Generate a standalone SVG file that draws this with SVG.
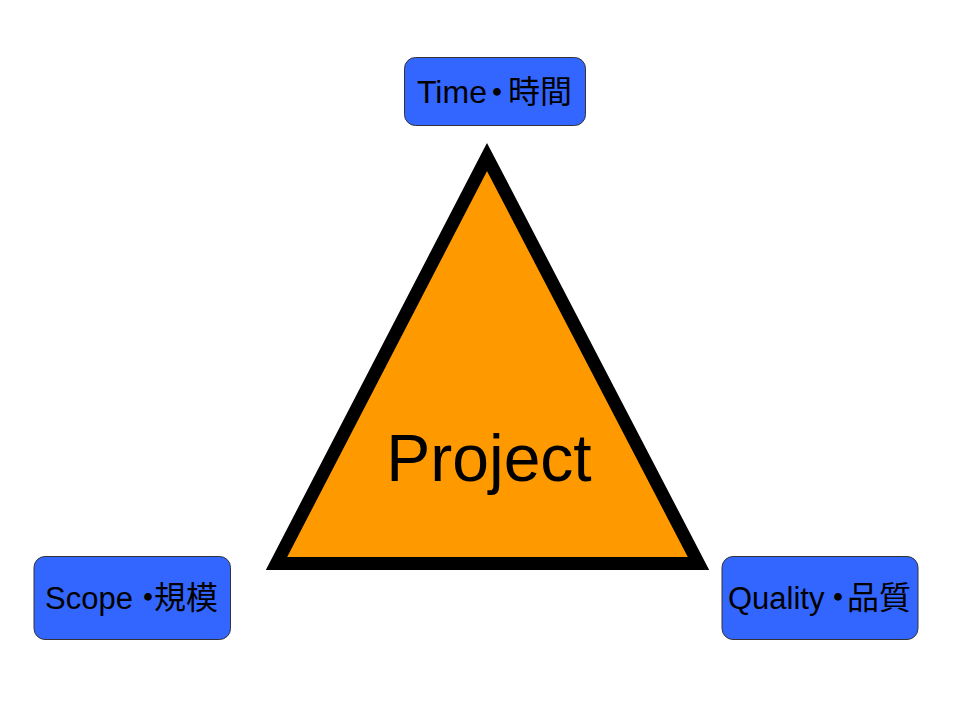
<svg xmlns="http://www.w3.org/2000/svg" width="960" height="720" viewBox="0 0 960 720">
<style>
.box{fill:#3366FF;stroke:#333333;stroke-width:1}
.lbl{font-family:"Liberation Sans","Noto Sans CJK JP",sans-serif;font-size:31px;fill:#000}
.cjk{font-family:"Noto Sans CJK JP",sans-serif;font-size:32px}
.dot{font-family:"Noto Sans CJK JP",sans-serif;font-size:36px}
.tri{fill:#FF9900;stroke:#000;stroke-width:13;stroke-linejoin:miter;stroke-miterlimit:10}
.big{font-family:"Liberation Sans",sans-serif;font-size:66px;fill:#000;text-anchor:middle}
</style>
<rect width="960" height="720" fill="#fff"/>
<g id="connectors"/>
<g id="project">
<polygon class="tri" points="487,157 276.5,563.5 698.5,563.5"/>
<text class="big" x="489" y="481">Project</text>
</g>
<g id="time">
<rect class="box" x="404.5" y="57.5" width="181" height="68" rx="11"/>
<text class="lbl" y="103"><tspan x="417" style="font-size:32px">Time</tspan><tspan class="dot" x="479" y="106">・</tspan><tspan class="cjk" x="508" y="103">時間</tspan></text>
</g>
<g id="scope">
<rect class="box" x="34" y="556.5" width="196.5" height="83" rx="11"/>
<text class="lbl" y="609"><tspan x="45">Scope</tspan><tspan class="dot" x="130" y="611">・</tspan><tspan class="cjk" x="154" y="609">規模</tspan></text>
</g>
<g id="quality">
<rect class="box" x="722" y="556.5" width="196" height="83" rx="11"/>
<text class="lbl" y="609"><tspan x="728">Quality</tspan><tspan class="dot" x="820" y="611">・</tspan><tspan class="cjk" x="847" y="609">品質</tspan></text>
</g>
</svg>
